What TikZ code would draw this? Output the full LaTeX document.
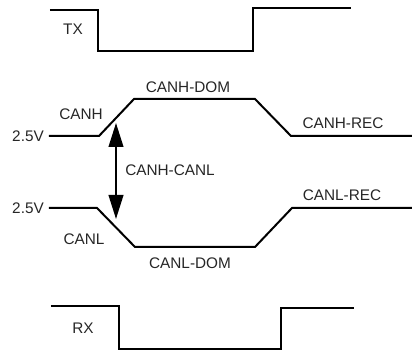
\documentclass[tikz,border=0pt]{standalone}
\usepackage{fontspec}
\setmainfont{Liberation Sans}
\usetikzlibrary{arrows.meta}
\tikzset{
  wave/.style={line width=1.5pt, black},
  sig/.style={font=\fontsize{11.5}{12}\selectfont, text=black!85, inner sep=0pt},
  diffarrow/.style={{Triangle[length=18pt, width=11pt]}-{Triangle[length=18pt, width=11pt]}, line width=1.5pt},
}
\begin{document}
\begin{tikzpicture}[x=0.75pt, y=-0.75pt]
\useasboundingbox (0,0) rectangle (412,352);

% TX
\draw[wave] (50,10) -- (98,10) -- (98,51) -- (253,51) -- (253,8) -- (351,8);
\node[sig] (tx) at (73,29) {TX};

% CANH / CANL
\draw[wave] (49,136) -- (99,136) -- (134,99) -- (255,99) -- (291,136) -- (412,136);
\draw[wave] (49,208) -- (97,208) -- (135,247) -- (255,247) -- (292,208) -- (412,208);
\node[sig] (vh) at (28,136) {2.5V};
\node[sig] (vl) at (28,208) {2.5V};
\node[sig] (canh) at (81,114) {CANH};
\node[sig] (canl) at (84,239) {CANL};
\node[sig] (hdom) at (188,87) {CANH-DOM};
\node[sig] (hrec) at (343,123) {CANH-REC};
\node[sig] (ldom) at (190,263) {CANL-DOM};
\node[sig] (lrec) at (342,195) {CANL-REC};
\node[sig] (diff) at (170,170) {CANH-CANL};
\coordinate (dtop) at (116,123);
\coordinate (dbot) at (116,219);
\draw[diffarrow] (dtop) -- (dbot);

% RX
\draw[wave] (51,306) -- (119,306) -- (119,349) -- (281,349) -- (281,308) -- (354,308);
\node[sig] (rx) at (83,328) {RX};
\end{tikzpicture}
\end{document}
